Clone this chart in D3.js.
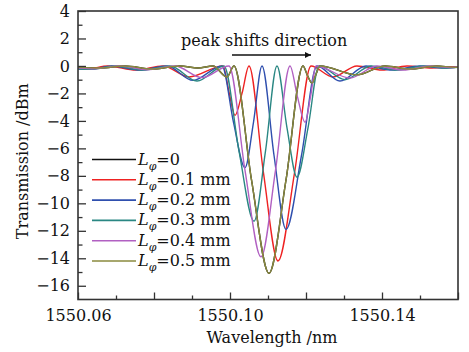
<!DOCTYPE html>
<html><head><meta charset="utf-8">
<script src="https://cdn.jsdelivr.net/npm/d3@7"></script>
<style>
html,body{margin:0;padding:0;background:#fff;}
svg text{font-family:"DejaVu Serif","Liberation Serif",serif;fill:#111;}
</style></head>
<body><svg id="c" width="469" height="352"></svg>
<script>
// ---- data (wavelength nm, transmission dB) ----
const seriesNames = ["0", "0.1 mm", "0.2 mm", "0.3 mm", "0.4 mm", "0.5 mm"];
const seriesColors = ["#111111", "#ee2222", "#2f4fae", "#2a8783", "#b160c2", "#8a8a3e"];

const wl0 = [1550.06000,1550.06579,1550.07237,1550.07947,1550.08684,1550.09158,1550.09553,1550.09921,1550.10105,1550.10566,1550.11026,1550.11474,1550.11921,1550.12039,1550.12158,1550.12263,1550.12368,1550.13342,1550.14079,1550.14737,1550.15421,1550.15921,1550.16000];
const db0 = [-0.1,-0.15,0,-0.22,0,-0.15,0,-0.8,0,-8.3,-15.1,-8.3,0,-0.7,-1.25,-0.6,0,-0.65,0,-0.22,0,-0.1,-0.08];

const wl1 = [1550.06000,1550.06263,1550.06789,1550.07526,1550.08237,1550.08921,1550.09816,1550.09974,1550.10132,1550.10316,1550.10500,1550.10882,1550.11263,1550.11697,1550.12132,1550.12711,1550.13342,1550.14000,1550.14658,1550.15316,1550.16000];
const db1 = [-0.18,-0.2,0,-0.3,0,-0.8,0,-1.9,-3.6,-2.0,0,-7.8,-14.2,-7.8,0,-0.8,0,-0.3,0,-0.15,-0.05];

const wl2 = [1550.06000,1550.06316,1550.06895,1550.07632,1550.08342,1550.09026,1550.09789,1550.10092,1550.10395,1550.10618,1550.10842,1550.11158,1550.11474,1550.11882,1550.12289,1550.12895,1550.13579,1550.14263,1550.15000,1550.15632,1550.16000];
const db2 = [-0.2,-0.25,0,-0.3,0,-1.05,0,-4.1,-7.4,-4.1,0,-6.5,-11.9,-6.5,0,-1.1,0,-0.3,0,-0.15,-0.08];

const wl3 = [1550.06000,1550.06368,1550.06974,1550.07711,1550.08421,1550.09132,1550.09842,1550.10237,1550.10632,1550.10934,1550.11237,1550.11500,1550.11763,1550.12053,1550.12342,1550.13026,1550.13711,1550.14395,1550.15105,1550.15711,1550.16000];
const db3 = [-0.22,-0.25,0,-0.3,0,-1.1,0,-6.2,-11.3,-6.2,0,-4.5,-8.1,-4.5,0,-1.0,0,-0.3,0,-0.15,-0.1];

const wl4 = [1550.06000,1550.06447,1550.07105,1550.07816,1550.08553,1550.09263,1550.09974,1550.10395,1550.10816,1550.11197,1550.11579,1550.11776,1550.11974,1550.12118,1550.12263,1550.13158,1550.13868,1550.14553,1550.15263,1550.15816,1550.16000];
const db4 = [-0.15,-0.2,0,-0.28,0,-0.85,0,-7.6,-13.9,-7.6,0,-2.25,-4.1,-2.25,0,-0.88,0,-0.3,0,-0.12,-0.08];

const wl5 = [1550.06000,1550.06579,1550.07237,1550.07947,1550.08684,1550.09158,1550.09553,1550.09921,1550.10105,1550.10566,1550.11026,1550.11474,1550.11921,1550.12039,1550.12158,1550.12263,1550.12368,1550.13342,1550.14079,1550.14737,1550.15421,1550.15921,1550.16000];
const db5 = [-0.1,-0.15,0,-0.22,0,-0.15,0,-0.8,0,-8.3,-15.1,-8.3,0,-0.7,-1.25,-0.6,0,-0.65,0,-0.22,0,-0.1,-0.08];

const xMajorTicks = [1550.06, 1550.08, 1550.10, 1550.12, 1550.14, 1550.16];
const xMinorTicks = [1550.07, 1550.09, 1550.11, 1550.13, 1550.15];
const xLabelTicks = [1550.06, 1550.10, 1550.14];
const yMajorTicks = [4, 2, 0, -2, -4, -6, -8, -10, -12, -14, -16];
const yMinorTicks = [3, 1, -1, -3, -5, -7, -9, -11, -13, -15];

// ---- drawing ----
const svg = d3.select("#c");
const L = 78, R = 458, T = 11, B = 299.5;
const x = d3.scaleLinear().domain([1550.06, 1550.16]).range([L, R]);
const y = d3.scaleLinear().domain([-17, 4]).range([B, T]);

const wls = [wl0, wl1, wl2, wl3, wl4, wl5];
const dbs = [db0, db1, db2, db3, db4, db5];

svg.append("clipPath").attr("id", "pc").append("rect")
  .attr("x", L).attr("y", T).attr("width", R - L).attr("height", B - T);

const line = d3.line().x(d => x(d[0])).y(d => y(d[1])).curve(d3.curveMonotoneX);
const g = svg.append("g").attr("clip-path", "url(#pc)");
wls.forEach((w, i) => {
  const pts = w.map((v, j) => [v, dbs[i][j]]);
  g.append("path").attr("d", line(pts)).attr("fill", "none")
    .attr("stroke", seriesColors[i]).attr("stroke-width", 1.4);
});

// axes
const axisColor = "#333";
function styleAxis(sel) {
  sel.select(".domain").remove();
  sel.selectAll("line").attr("stroke", axisColor).attr("stroke-width", 1.3);
}
const fmtX = d => xLabelTicks.some(v => Math.abs(v - d) < 1e-9) ? d.toFixed(2) : "";
const gx = svg.append("g").attr("transform", `translate(0,${B})`)
  .call(d3.axisBottom(x).tickValues(xMajorTicks).tickSize(-7).tickPadding(10).tickFormat(fmtX));
styleAxis(gx);
gx.selectAll("text").attr("font-size", 16).attr("fill", "#111").attr("font-family", "DejaVu Serif");
const gxm = svg.append("g").attr("transform", `translate(0,${B})`)
  .call(d3.axisBottom(x).tickValues(xMinorTicks).tickSize(-4).tickFormat(""));
styleAxis(gxm);

const gy = svg.append("g").attr("transform", `translate(${L},0)`)
  .call(d3.axisLeft(y).tickValues(yMajorTicks).tickSize(-8).tickPadding(8)
    .tickFormat(d => d < 0 ? "\u2212" + Math.abs(d) : String(d)));
styleAxis(gy);
gy.selectAll("text").attr("font-size", 16).attr("fill", "#111").attr("font-family", "DejaVu Serif");
const gym = svg.append("g").attr("transform", `translate(${L},0)`)
  .call(d3.axisLeft(y).tickValues(yMinorTicks).tickSize(-4.5).tickFormat(""));
styleAxis(gym);

svg.append("rect").attr("x", L).attr("y", T).attr("width", R - L).attr("height", B - T)
  .attr("fill", "none").attr("stroke", axisColor).attr("stroke-width", 1.6);

// axis titles
svg.append("text").attr("x", (L + R) / 2 + 4).attr("y", 343).attr("text-anchor", "middle")
  .attr("font-size", 16).text("Wavelength /nm");
svg.append("text").attr("transform", `translate(28,${(T + B) / 2 + 6}) rotate(-90)`)
  .attr("text-anchor", "middle").attr("font-size", 16).text("Transmission /dBm");

// annotation
svg.append("text").attr("x", 181).attr("y", 46).attr("font-size", 16).text("peak shifts direction");
const defs = svg.append("defs");
defs.append("marker").attr("id", "ah").attr("viewBox", "0 0 10 10").attr("refX", 10).attr("refY", 5)
  .attr("markerWidth", 10).attr("markerHeight", 6).attr("markerUnits", "userSpaceOnUse").attr("orient", "auto")
  .append("path").attr("d", "M0,0 L10,5 L0,10 Z").attr("fill", "#111");
svg.append("line").attr("x1", 232).attr("y1", 55).attr("x2", 311).attr("y2", 55)
  .attr("stroke", "#111").attr("stroke-width", 1.3).attr("marker-end", "url(#ah)");

// legend
const lg = svg.append("g");
seriesNames.forEach((n, i) => {
  const yy = 159.5 + i * 20.3;
  lg.append("line").attr("x1", 92).attr("x2", 136).attr("y1", yy).attr("y2", yy)
    .attr("stroke", seriesColors[i]).attr("stroke-width", 1.6);
  const t = lg.append("text").attr("x", 138).attr("y", yy + 5).attr("font-size", 16);
  t.append("tspan").attr("font-style", "italic").text("L");
  t.append("tspan").attr("font-style", "italic").attr("font-size", 11).attr("dy", 5).text("\u03c6");
  t.append("tspan").attr("dy", -5).text("=" + n);
});
</script></body></html>
